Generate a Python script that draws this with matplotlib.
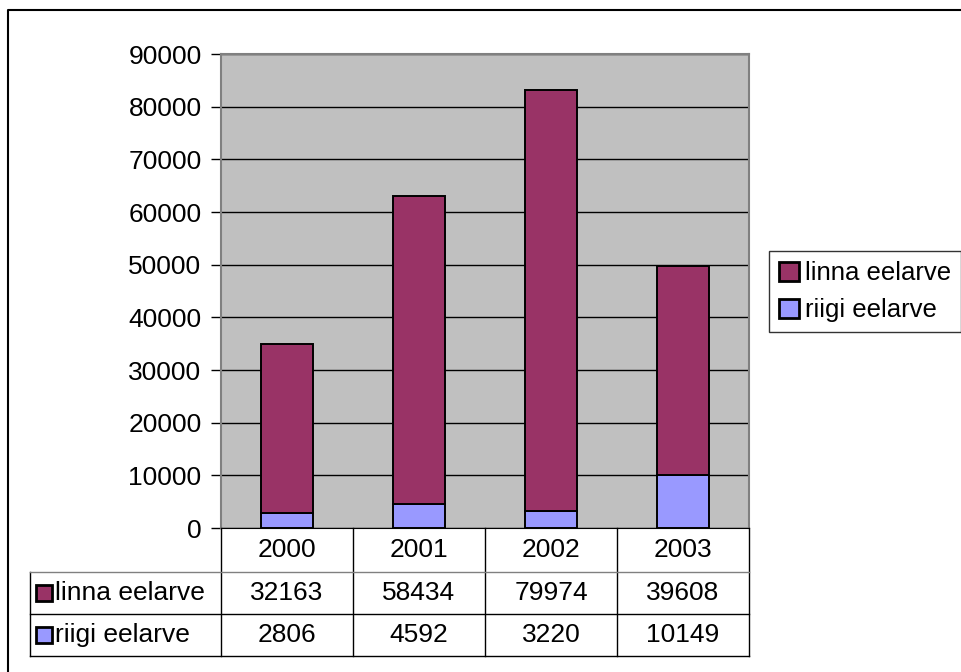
import matplotlib
matplotlib.use("Agg")
import matplotlib.pyplot as plt
from matplotlib.patches import Rectangle, Patch
from matplotlib.lines import Line2D
import matplotlib.transforms as mtransforms

years = ["2000", "2001", "2002", "2003"]
linna = [32163, 58434, 79974, 39608]
riigi = [2806, 4592, 3220, 10149]
series_names = ["linna eelarve", "riigi eelarve"]

LINNA_COLOR = "#993366"
RIIGI_COLOR = "#9999FF"
PLOT_BG = "#C0C0C0"

W, H = 962, 672
FONT = 19

plt.rcParams["font.family"] = ["Liberation Sans", "DejaVu Sans"]


def fx(px):
    return px / W


def fy(py):
    return 1 - py / H


fig = plt.figure(figsize=(W / 100, H / 100), dpi=100)

# plot area in pixels
left, right, top, bottom = 221, 749, 54, 528
ax = fig.add_axes([fx(left), fy(bottom), fx(right - left), (bottom - top) / H])
ax.set_facecolor(PLOT_BG)

x = list(range(len(years)))
ax.bar(x, riigi, width=0.4, color=RIIGI_COLOR, edgecolor="black", linewidth=1.4, zorder=3)
ax.bar(x, linna, width=0.4, bottom=riigi, color=LINNA_COLOR, edgecolor="black", linewidth=1.4, zorder=3)

ax.set_xlim(-0.5, len(years) - 0.5)
ax.set_ylim(0, 90000)
ax.set_yticks(range(0, 90001, 10000))
ax.tick_params(axis="y", direction="out", length=7, width=1, labelsize=FONT, pad=7)
ax.set_xticks([])
ax.yaxis.grid(True, color="black", linewidth=1, zorder=1)
for side in ["top", "right", "left"]:
    ax.spines[side].set_color("#808080")
    ax.spines[side].set_linewidth(1.5)
ax.spines["bottom"].set_color("black")

# data table under the plot
rows_px = [528, 572, 614, 656]
table_left = 30
trans = mtransforms.blended_transform_factory(ax.transData, fig.transFigure)

for xv in [i - 0.5 for i in range(len(years) + 1)]:
    fig.add_artist(Line2D([xv, xv], [fy(rows_px[0]), fy(rows_px[-1])], transform=trans,
                          color="black", linewidth=1))
fig.add_artist(Line2D([fx(table_left)] * 2, [fy(rows_px[1]), fy(rows_px[-1])],
                      transform=fig.transFigure, color="black", linewidth=1))
for i, ry in enumerate(rows_px[1:]):
    fig.add_artist(Line2D([fx(table_left), fx(right)], [fy(ry)] * 2,
                          transform=fig.transFigure,
                          color="#808080" if i == 0 else "black", linewidth=1))

for i, yr in enumerate(years):
    fig.text(i, fy((rows_px[0] + rows_px[1]) / 2), yr, transform=trans,
             ha="center", va="center", fontsize=FONT)

for r, (name, vals, col) in enumerate(zip(series_names, [linna, riigi], [LINNA_COLOR, RIIGI_COLOR])):
    cy = (rows_px[r + 1] + rows_px[r + 2]) / 2
    fig.add_artist(Rectangle((fx(36), fy(cy + 8)), 16 / W, 16 / H, transform=fig.transFigure,
                             facecolor=col, edgecolor="black", linewidth=2))
    fig.text(fx(55), fy(cy), name, ha="left", va="center", fontsize=FONT)
    for i, v in enumerate(vals):
        fig.text(i, fy(cy), str(v), transform=trans, ha="center", va="center", fontsize=FONT)

# legend
handles = [Patch(facecolor=LINNA_COLOR, edgecolor="black", linewidth=2),
           Patch(facecolor=RIIGI_COLOR, edgecolor="black", linewidth=2)]
leg = fig.legend(handles, series_names, loc="upper left",
                 bbox_to_anchor=(fx(769), fy(251)), fontsize=18.5,
                 frameon=True, fancybox=False, edgecolor="black",
                 handlelength=0.75, handleheight=0.75, handletextpad=0.25,
                 borderpad=0.4, labelspacing=0.5, borderaxespad=0)
leg.get_frame().set_linewidth(1)

# outer chart frame (only left and top visible)
fig.add_artist(Line2D([fx(8), fx(8), 1], [0, fy(10), fy(10)], transform=fig.transFigure,
                      color="black", linewidth=1.5))

fig.savefig("out.png", dpi=100)
